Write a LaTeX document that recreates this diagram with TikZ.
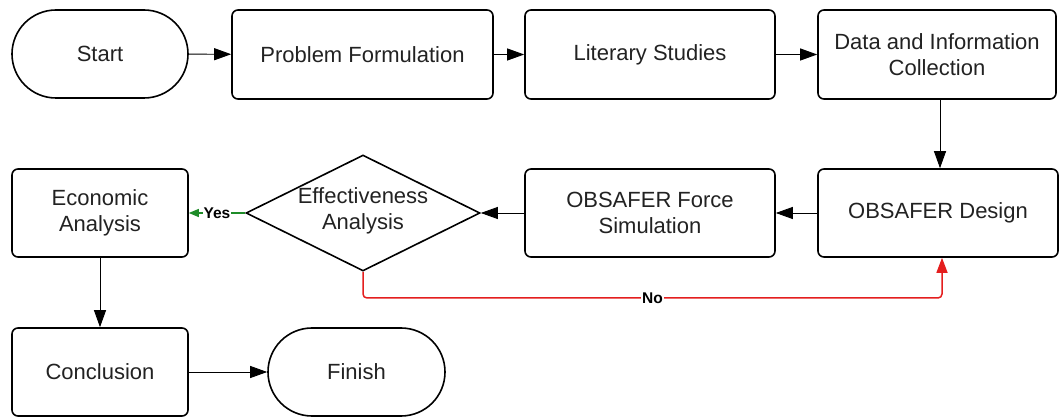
\documentclass[tikz,border=0pt]{standalone}
\usepackage{fontspec}
\setmainfont{Liberation Sans}
\usetikzlibrary{shapes.geometric,arrows.meta,calc}
\definecolor{txt}{RGB}{34,34,34}
\definecolor{nored}{RGB}{228,30,30}
\definecolor{yesgreen}{RGB}{30,140,40}
\tikzset{
  base/.style={draw=black,line width=1.6pt,inner sep=0pt,align=center,text=txt,font=\fontsize{22}{26}\selectfont},
  procbox/.style={base,rectangle,rounded corners=6pt},
  term/.style={base,rectangle,rounded corners=44pt,minimum width=176pt,minimum height=88pt},
  dia/.style={base,diamond,minimum width=234pt,minimum height=116pt},
  conn/.style={line width=0.9pt,-{Triangle[length=17pt,width=12pt]}},
  lbl/.style={fill=white,inner sep=1pt,font=\bfseries\fontsize{15.5}{18}\selectfont,text=black}
}
\begin{document}
\begin{tikzpicture}[x=1pt,y=-1pt]
\useasboundingbox (0,0) rectangle (1060,419);
\node[term] (start) at (100,54) {Start};
\node[procbox,minimum width=261pt,minimum height=89pt] (pf) at (362.5,54.5) {Problem Formulation};
\node[procbox,minimum width=250pt,minimum height=89pt] (ls) at (650,54.5) {Literary Studies};
\node[procbox,minimum width=238pt,minimum height=89pt] (dic) at (937,54.5) {Data and Information\\Collection};
\node[procbox,minimum width=240pt,minimum height=88pt] (od) at (938,213) {OBSAFER Design};
\node[procbox,minimum width=250pt,minimum height=88pt] (ofs) at (650,213) {OBSAFER Force\\Simulation};
\node[dia] (ea) at (363,213) {};
\node[align=center,text=txt,font=\fontsize{22}{26}\selectfont,inner sep=0pt] (eatext) at (363,211) {Effectiveness\\Analysis};
\node[procbox,minimum width=176pt,minimum height=88pt] (eco) at (100,213) {Economic\\Analysis};
\node[procbox,minimum width=176pt,minimum height=88pt] (con) at (100,372) {Conclusion};
\node[term,minimum width=177pt] (fin) at (356.5,372) {Finish};

\draw[conn] (start) -- (pf);
\draw[conn] (pf) -- (ls);
\draw[conn] (ls) -- (dic);
\draw[conn] (dic.south -| 940,0) -- (od.north -| 940,0);
\draw[conn] (od) -- (ofs);
\draw[conn] (ofs) -- (ea);
\draw[conn,draw=yesgreen,line width=1.3pt,-{Triangle[length=10pt,width=8pt,fill=yesgreen]}] (ea.west) -- node[lbl,pos=0.5]{Yes} (eco.east);
\draw[conn] (eco) -- (con);
\draw[conn] (con) -- (fin);
\coordinate (nocorner) at (363,298);
\draw[conn,draw=nored,line width=1.5pt,rounded corners=4pt,-{Triangle[length=15pt,width=11pt,fill=nored]}] (ea.south) -- (nocorner) -| node[lbl,pos=0.25]{No} (od.south -| 942,0);
\end{tikzpicture}
\end{document}
